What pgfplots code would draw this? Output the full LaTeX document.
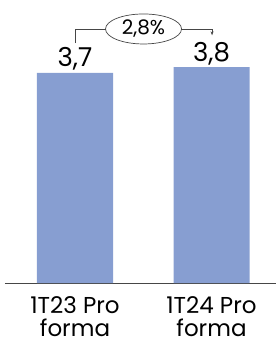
\documentclass[border=0pt]{standalone}
\usepackage{pgfplots}
\pgfplotsset{compat=1.18}
\usepackage{fontspec}
\setmainfont{Poppins}
\usetikzlibrary{arrows.meta,shapes.geometric}
\definecolor{barblue}{RGB}{135,158,209}
\definecolor{axgray}{RGB}{70,70,70}
\begin{document}
\begin{tikzpicture}
\useasboundingbox (-5pt,-57pt) rectangle (271pt,283pt);
\begin{axis}[
  scale only axis, width=271pt, height=283pt,
  xmin=-0.5128, xmax=1.4725, ymin=0, ymax=4.982,
  axis x line=bottom, axis y line=none,
  axis line style={axgray, line width=0.8pt, -},
  xtick={0,1}, xticklabels={1T23 Pro\\[-7pt]forma,1T24 Pro\\[-7pt]forma},
  xtick style={draw=none},
  x tick label style={align=center, anchor=north, inner sep=0pt, font=\fontsize{23}{30}\selectfont, text=black, yshift=-9pt},
  ybar, bar width=76pt,
  /pgf/number format/assume math mode=true,
  nodes near coords, every node near coord/.style={font=\fontsize{26}{28}\selectfont, text=black, anchor=base, inner sep=0pt, yshift=6pt},
  nodes near coords={\pgfmathprintnumber[use comma,fixed,precision=1]{\pgfplotspointmeta}},
  clip=false,
]
\addplot[fill=barblue, draw=none] coordinates {(0,3.7) (1,3.8)};
\draw[axgray, line width=0.7pt] (axis cs:0,4.225) -- (axis cs:0,4.472) -- (axis cs:0.225,4.472);
\draw[axgray, line width=0.7pt, -{Stealth[length=4pt,width=3pt]}] (axis cs:0.78,4.472) -- (axis cs:1.004,4.472) -- (axis cs:1.004,4.36);
\node[draw=axgray, line width=0.7pt, ellipse, minimum width=76pt, minimum height=30pt, inner sep=0pt, font=\fontsize{20}{22}\selectfont] at (axis cs:0.502,4.472) {2,8\%};
\end{axis}
\end{tikzpicture}
\end{document}
